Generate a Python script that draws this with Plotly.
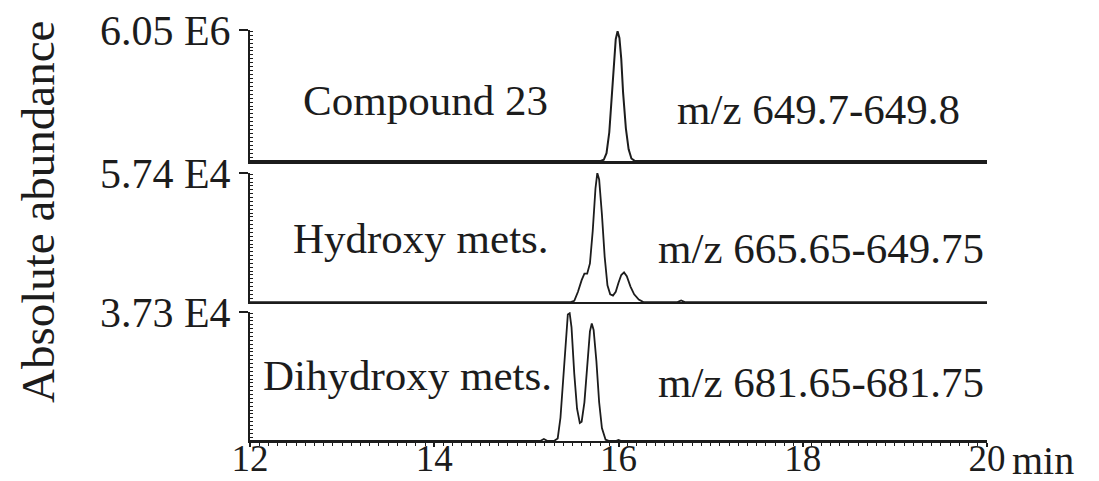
import plotly.graph_objects as go

# ---- data (relative intensity, % of panel full scale) ----
t_top = [12.0, 15.80, 15.84, 15.87, 15.90, 15.93, 15.95, 15.97, 15.99, 16.01, 16.03, 16.05, 16.08, 16.11, 16.14, 16.18, 20.0]
i_top = [0, 0, 1, 6, 22, 50, 75, 93, 99, 94, 78, 52, 25, 9, 2, 0, 0]

t_mid = [12.0, 15.48, 15.52, 15.56, 15.60, 15.63, 15.66, 15.69, 15.72, 15.75, 15.77, 15.79, 15.82, 15.85,
         15.88, 15.91, 15.94, 15.97, 16.00, 16.03, 16.06, 16.09, 16.13, 16.17, 16.22, 16.27, 16.64, 16.68, 16.72, 20.0]
i_mid = [0, 0, 1, 8, 17, 22, 22, 30, 55, 88, 100, 95, 68, 35,
         13, 6, 5, 8, 15, 21, 23, 20, 12, 6, 2, 0, 0, 1.2, 0, 0]

t_bot = [12.0, 15.15, 15.19, 15.23, 15.30, 15.34, 15.37, 15.40, 15.43, 15.45, 15.47, 15.49, 15.52, 15.55,
         15.58, 15.60, 15.63, 15.66, 15.69, 15.71, 15.73, 15.76, 15.79, 15.82, 15.86, 15.90, 15.97, 16.00, 16.03, 20.0]
i_bot = [0, 0, 1.5, 0, 0, 2, 18, 50, 85, 98, 99, 88, 52, 25,
         14, 15, 30, 58, 85, 91, 86, 62, 30, 10, 1, 0, 0, 0.8, 0, 0]

full_scale = ["6.05 E6", "5.74 E4", "3.73 E4"]
x_ticks = [12, 14, 16, 18, 20]
x_ticktext = ["12", "14", "16", "18", "20"]
panel_names = ["Compound 23", "Hydroxy mets.", "Dihydroxy mets."]
mz_labels = ["m/z 649.7-649.8", "m/z 665.65-649.75", "m/z 681.65-681.75"]

INK = "#1c1c1c"
FONT = "Liberation Serif, Times New Roman, serif"

fig = go.Figure()
fig.add_trace(go.Scatter(x=t_top, y=i_top, mode="lines", line=dict(color=INK, width=2), xaxis="x3", yaxis="y"))
fig.add_trace(go.Scatter(x=t_mid, y=i_mid, mode="lines", line=dict(color=INK, width=1.8), xaxis="x2", yaxis="y2"))
fig.add_trace(go.Scatter(x=t_bot, y=i_bot, mode="lines", line=dict(color=INK, width=1.8), xaxis="x", yaxis="y3"))

def yax(domain, label, anchor):
    return dict(domain=domain, range=[0, 100], anchor=anchor, showgrid=False, zeroline=False, automargin=False,
                showline=True, linecolor=INK, linewidth=2, ticklabeloverflow="allow",
                tickvals=[100], ticktext=[label], ticks="outside", ticklen=9, tickwidth=1.5, tickcolor=INK,
                tickfont=dict(family=FONT, size=42, color=INK),
                minor=dict(ticks="inside", dtick=3, tick0=0, ticklen=3, tickwidth=1, tickcolor=INK, showgrid=False))

# margins compensate the page's 8px body margin
fig.update_layout(
    width=1099, height=481,
    margin=dict(l=242, r=120, t=22, b=48, autoexpand=False),
    paper_bgcolor="white", plot_bgcolor="white",
    showlegend=False,
    xaxis=dict(domain=[0, 1], range=[12, 20], anchor="y3", showgrid=False, zeroline=False, automargin=False,
               showline=True, linecolor=INK, linewidth=2, ticklabeloverflow="allow",
               tickvals=x_ticks, ticktext=x_ticktext, ticks="outside", ticklen=4, tickwidth=1.5, tickcolor=INK,
               ticklabelstandoff=-20,
               tickfont=dict(family=FONT, size=37, color=INK),
               minor=dict(ticks="outside", dtick=0.1, tick0=12, ticklen=3, tickwidth=1, tickcolor=INK, showgrid=False)),
    xaxis2=dict(domain=[0, 1], range=[12, 20], anchor="y2", matches="x", showgrid=False, zeroline=False,
                automargin=False, showline=True, linecolor=INK, linewidth=2, showticklabels=False, ticks=""),
    xaxis3=dict(domain=[0, 1], range=[12, 20], anchor="y", matches="x", showgrid=False, zeroline=False,
                automargin=False, showline=True, linecolor=INK, linewidth=3, showticklabels=False, ticks=""),
    yaxis=yax([0.681, 1.0], full_scale[0], "x3"),
    yaxis2=yax([0.338, 0.652], full_scale[1], "x2"),
    yaxis3=yax([0.0, 0.314], full_scale[2], "x"),
)

name_pos = [(13.90, 46.6, "y"), (13.86, 49.6, "y2"), (13.71, 51.0, "y3")]
mz_pos = [(18.17, 39.0, "y"), (18.20, 41.9, "y2"), (18.20, 45.7, "y3")]
xrefs = ["x3", "x2", "x"]
for k in range(3):
    fig.add_annotation(x=name_pos[k][0], y=name_pos[k][1], xref=xrefs[k], yref=name_pos[k][2],
                       xanchor="center", yanchor="middle",
                       text=panel_names[k], showarrow=False, font=dict(family=FONT, size=43, color=INK))
    fig.add_annotation(x=mz_pos[k][0], y=mz_pos[k][1], xref=xrefs[k], yref=mz_pos[k][2],
                       xanchor="center", yanchor="middle",
                       text=mz_labels[k], showarrow=False, font=dict(family=FONT, size=43, color=INK))

fig.add_annotation(x=-0.2877, y=0.557, xref="paper", yref="paper", text="Absolute abundance",
                   xanchor="center", yanchor="middle",
                   textangle=-90, showarrow=False, font=dict(family=FONT, size=47, color=INK))
fig.add_annotation(x=1.0312, y=-0.0486, xref="paper", yref="paper", text="min", xanchor="left", yanchor="middle",
                   showarrow=False, font=dict(family=FONT, size=40, color=INK))

fig.write_html("out.html")
